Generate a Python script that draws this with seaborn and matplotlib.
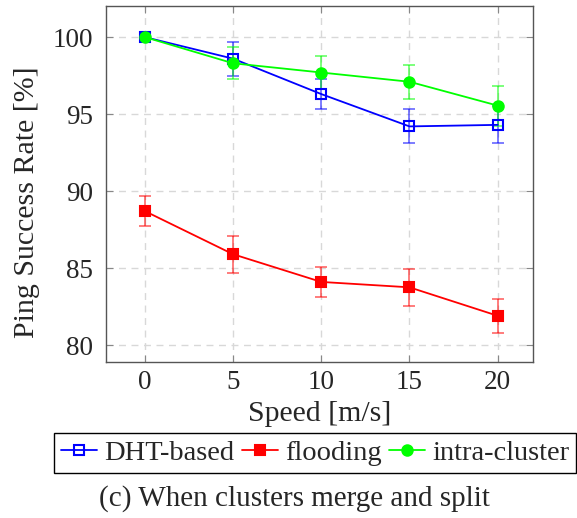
import matplotlib
matplotlib.use("Agg")
import matplotlib.pyplot as plt
import seaborn as sns
import pandas as pd

# data
speed = [0, 5, 10, 15, 20]
dht = [100.0, 98.6, 96.3, 94.2, 94.3]
dht_err = [0.0, 1.1, 1.0, 1.1, 1.2]
flooding = [88.7, 85.9, 84.1, 83.75, 81.9]
flooding_err = [1.0, 1.2, 1.0, 1.2, 1.1]
intra = [100.0, 98.3, 97.7, 97.1, 95.55]
intra_err = [0.0, 1.05, 1.1, 1.1, 1.3]
yticks = [80, 85, 90, 95, 100]

sns.set_style("white")
plt.rcParams['font.family'] = ['Liberation Serif', 'DejaVu Serif']

df = pd.DataFrame({
    'speed': speed * 3,
    'rate': dht + flooding + intra,
    'err': dht_err + flooding_err + intra_err,
    'method': ['DHT-based'] * 5 + ['flooding'] * 5 + ['intra-cluster'] * 5,
})

fig = plt.figure(figsize=(5.77, 5.18), dpi=100)
ax = fig.add_axes([106 / 577, 1 - 362 / 518, (533 - 106) / 577, (362 - 6.3) / 518])

styles = {
    'DHT-based': dict(color=(0, 0, 1), marker='s', mfc='none', ms=6.5),
    'flooding': dict(color=(1, 0, 0), marker='s', mfc=(1, 0, 0), ms=7.5),
    'intra-cluster': dict(color=(0, 1, 0), marker='o', mfc=(0, 1, 0), ms=7.5),
}

for name, st in styles.items():
    sub = df[df['method'] == name]
    ax.errorbar(sub['speed'], sub['rate'], yerr=sub['err'], fmt='none',
                ecolor=st['color'], alpha=0.6, capsize=4, elinewidth=1.2,
                capthick=1.2, zorder=2)
    sns.lineplot(data=sub, x='speed', y='rate', ax=ax, color=st['color'],
                 marker=st['marker'], markerfacecolor=st['mfc'],
                 markeredgecolor=st['color'], markersize=st['ms'],
                 markeredgewidth=1.5, linewidth=1.3, label=name, zorder=3)

ax.set_xlim(-2.2, 22)
ax.set_ylim(78.9, 102)
ax.set_xticks(speed)
ax.set_yticks(yticks)
ax.grid(True, color='#d8d8d8', linestyle=(0, (5, 4)), linewidth=1)
ax.tick_params(direction='in', length=5, color='#888888', labelsize=19.5,
               top=True, right=True, bottom=True, left=True)
ax.tick_params(axis='y', pad=9.5)
ax.tick_params(axis='x', pad=6)
for s in ax.spines.values():
    s.set_color('#555555')
    s.set_linewidth(1.0)

ax.set_xlabel('Speed [m/s]', fontsize=21.5)
ax.set_ylabel('Ping Success Rate [%]', fontsize=21.5)
ax.xaxis.set_label_coords(0.5, (362 - 401) / 356)
ax.yaxis.set_label_coords((40 - 106) / 427, (362 - 202) / 356)

handles, labels = ax.get_legend_handles_labels()
ax.get_legend().remove()
fig.legend(handles, labels, loc='upper left',
           bbox_to_anchor=(54 / 577, 1 - 433 / 518), ncol=3, fontsize=20.5,
           frameon=True, fancybox=False, edgecolor='black', framealpha=1,
           handlelength=1.25, handletextpad=0.25, columnspacing=0.28,
           borderpad=0.25, borderaxespad=0)

fig.text(294 / 577, 1 - 499 / 518, '(c) When clusters merge and split',
         ha='center', va='center', fontsize=21)

fig.savefig('out.png', dpi=100)
